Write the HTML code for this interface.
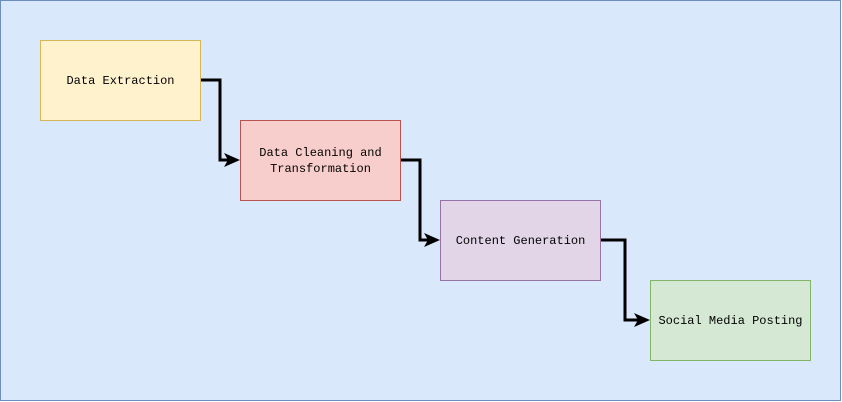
<!DOCTYPE html>
<html><head><meta charset="utf-8"><style>
html,body{margin:0;padding:0;background:#fff;}
svg{display:block;}
text{font-family:"Liberation Mono","Courier New",monospace;font-size:12px;font-weight:normal;fill:#000;}
</style></head><body>
<svg width="842" height="402" viewBox="0 0 842 402" xmlns="http://www.w3.org/2000/svg">
<rect x="0.5" y="0.5" width="840" height="400" fill="#dae8fc" stroke="#6c8ebf"/>
<rect x="40.5" y="40.5" width="160" height="80" fill="#fff2cc" stroke="#d6b656"/>
<rect x="240.5" y="120.5" width="160" height="80" fill="#f8cecc" stroke="#b85450"/>
<rect x="440.5" y="200.5" width="160" height="80" fill="#e1d5e7" stroke="#9673a6"/>
<rect x="650.5" y="280.5" width="160" height="80" fill="#d5e8d4" stroke="#82b366"/>
<g fill="none" stroke="#000" stroke-width="3">
<path d="M201,80 H220 V160 H229"/>
<path d="M401,160 H420 V240 H429"/>
<path d="M601,240 H625 V320 H639"/>
</g>
<g fill="#000">
<path d="M240,160 L224,153 L228,160 L224,167 Z"/>
<path d="M440,240 L424,233 L428,240 L424,247 Z"/>
<path d="M650,320 L634,313 L638,320 L634,327 Z"/>
</g>
<g text-anchor="middle">
<text x="120.5" y="84">Data Extraction</text>
<text x="320.5" y="156">Data Cleaning and</text>
<text x="320.5" y="172">Transformation</text>
<text x="520.5" y="244">Content Generation</text>
<text x="730.5" y="324">Social Media Posting</text>
</g>
</svg>
</body></html>
